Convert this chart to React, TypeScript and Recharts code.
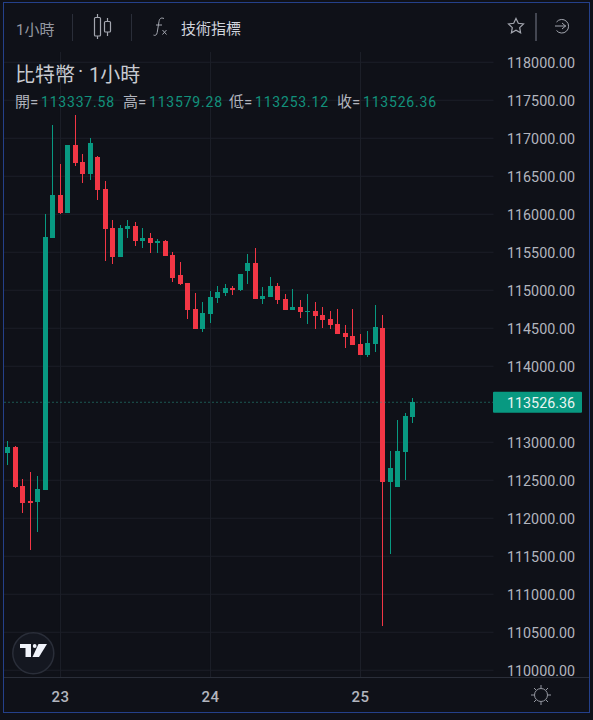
import { Bar, CartesianGrid, ComposedChart, ReferenceLine, XAxis, YAxis } from "recharts";

const FONT = "Roboto, 'Noto Sans CJK TC', sans-serif";
const BG = "#0f1118";
const UP = "#089981";
const DOWN = "#f23645";
const TEXT = "#b2b5be";

const opens = [
  112860, 112940, 112425, 112228, 112214, 112372, 115688, 116254, 116017, 116912, 116688,
  116530, 116754, 116333, 115820, 115438, 115807, 115846, 115649, 115688, 115622, 115649,
  115465, 115201, 115096, 114754, 114491, 114688, 114899, 114964, 115030, 115004, 115254,
  115359, 114886, 114912, 115057, 114886, 114741, 114780, 114714, 114728, 114675, 114622,
  114557, 114438, 114399, 114293, 114149, 114293, 114504, 112478, 112412, 112872, 113337.58,
];
const closes = [
  112938, 112413, 112201, 112201, 112385, 115701, 116254, 116017, 116912, 116675, 116530,
  116938, 116320, 115807, 115434, 115820, 115846, 115649, 115688, 115622, 115649, 115451,
  115162, 115083, 114741, 114491, 114701, 114912, 114978, 115030, 115004, 115215, 115359,
  114886, 114925, 115057, 114872, 114741, 114780, 114714, 114728, 114662, 114609, 114543,
  114425, 114385, 114280, 114149, 114307, 114517, 112478, 112662, 112886, 113346, 113526.36,
];
const highs = [
  113017, 112955, 112517, 112609, 112557, 116004, 117175, 116662, 116912, 117307, 116793,
  117004, 116767, 116438, 115925, 115859, 115925, 115899, 115820, 115754, 115675, 115662,
  115504, 115372, 115096, 114964, 114846, 114991, 115057, 115083, 115057, 115215, 115478,
  115557, 115043, 115175, 115096, 114951, 115017, 114872, 114951, 114846, 114780, 114728,
  114754, 114543, 114754, 114425, 114464, 114807, 114675, 112886, 113293, 113386, 113579.28,
];
const lows = [
  112701, 112400, 112070, 111579, 111820, 112372, 115688, 116004, 116017, 116639, 116412,
  116451, 116188, 115386, 115346, 115438, 115688, 115583, 115557, 115491, 115491, 115451,
  115109, 115070, 114622, 114491, 114451, 114570, 114833, 114925, 114938, 114991, 115083,
  114886, 114820, 114912, 114820, 114741, 114741, 114635, 114557, 114491, 114504, 114491,
  114425, 114241, 114280, 114149, 114122, 114188, 110583, 111530, 112412, 112504, 113253.12,
];

// 113500 is covered by the last price tag in the reference, so it is left out
const priceTicks = [
  110000, 110500, 111000, 111500, 112000, 112500, 113000, 114000, 114500, 115000,
  115500, 116000, 116500, 117000, 117500, 118000,
];
const dayTicks = [7, 27, 47];
const dayLabels = ["23", "24", "25"];
const lastPrice = 113526.36;
const ohlcLabels = ["開=", "高=", "低=", "收="];
const ohlcValues = ["113337.58", "113579.28", "113253.12", "113526.36"];

const rows = opens.map((open, i) => ({
  i,
  open,
  close: closes[i],
  high: highs[i],
  low: lows[i],
  range: [lows[i], highs[i]],
}));

function Candle(props: any) {
  const { x, y, width, height, payload } = props;
  const { open, close, high, low } = payload;
  const pxPerUnit = height / (high - low);
  const color = close >= open ? UP : DOWN;
  const wickX = Math.floor(x + width / 2);
  const top = Math.round(y + (high - Math.max(open, close)) * pxPerUnit);
  const bottom = Math.round(y + (high - Math.min(open, close)) * pxPerUnit);
  return (
    <g>
      <rect x={wickX} y={Math.round(y)} width={1} height={Math.round(height)} fill={color} />
      <rect x={wickX - 2} y={top} width={5} height={Math.max(bottom - top, 1)} fill={color} />
    </g>
  );
}

function PriceTag({ viewBox }: any) {
  const y = viewBox.y;
  return (
    <g>
      <rect x={493} y={y - 10.5} width={89} height={21} rx={1} fill={UP} />
      <text x={507} y={y + 5.5} fill="#e8f5f2" fontSize={14.3} fontFamily={FONT}>
        {lastPrice.toFixed(2)}
      </text>
    </g>
  );
}

function Header() {
  const ohlcLefts = [15, 123, 229, 337];
  return (
    <>
      <div style={{ position: "absolute", left: 16, top: 18, fontSize: 15, color: "#9598a1" }}>1小時</div>
      <div style={{ position: "absolute", left: 72, top: 14, width: 1, height: 27, background: "#2a2e39" }} />
      <div style={{ position: "absolute", left: 131, top: 14, width: 1, height: 27, background: "#2a2e39" }} />
      <div style={{ position: "absolute", left: 535, top: 13, width: 2, height: 28, background: "#434651" }} />
      <svg style={{ position: "absolute", left: 0, top: 0 }} width={593} height={50} fill="none" stroke="#a3a6af" strokeWidth={1.2}>
        <path d="M97.500 14v3.500M97.500 36v3M107.500 18v3M107.500 32v4" />
        <rect x={94.5} y={17.5} width={6} height={18.5} rx={1} />
        <rect x={104.5} y={21.5} width={6} height={10.5} rx={1} />
        <path d="M164 18.500c-3-1.200-4.500 0-5 3l-1.800 11c-.5 2.800-2 3.300-3.700 2.600M156 25h6" strokeWidth={1} />
        <path d="M162.500 30l4 4.500M166.500 30l-4 4.500" strokeWidth={1} />
        <path d="M516 18.500l2.300 4.800 5.200.7-3.800 3.600.9 5.200-4.600-2.500-4.600 2.500.9-5.200-3.800-3.600 5.200-.7z" />
        <path d="M556.500 22a6.800 6.800 0 1 1 0 8.500M555 26h11M562 23l3.500 3-3.500 3" strokeWidth={1} />
      </svg>
      <div style={{ position: "absolute", left: 181, top: 17, fontSize: 15, color: "#d1d4dc" }}>技術指標</div>
      <div style={{ position: "absolute", left: 15, top: 59, fontSize: 20, color: "#c8cad0" }}>比特幣</div>
      <div style={{ position: "absolute", left: 78, top: 59, fontSize: 20, color: "#c8cad0" }}>·</div>
      <div style={{ position: "absolute", left: 89, top: 59, fontSize: 20, color: "#c8cad0" }}>1小時</div>
      {ohlcLabels.map((label, i) => (
        <div key={label}>
          <div style={{ position: "absolute", left: ohlcLefts[i], top: 93, lineHeight: "18px", fontSize: 15, color: TEXT }}>{label}</div>
          <div style={{ position: "absolute", left: ohlcLefts[i] + 26, top: 93, lineHeight: "18px", fontSize: 14, letterSpacing: 0.8, color: "#12917c" }}>{ohlcValues[i]}</div>
        </div>
      ))}
    </>
  );
}

function Footer() {
  return (
    <>
      <div style={{ position: "absolute", left: 4, top: 677, width: 585, height: 1, background: "#2a2e39" }} />
      <svg style={{ position: "absolute", left: 0, top: 625 }} width={593} height={90}>
        <circle cx={33.3} cy={28.3} r={20.5} fill="#141720" stroke="#2a2e39" strokeWidth={1.5} />
        <path d="M20 19h11v13h-5.500v-9h-5.500z" fill="#f0f3fa" />
        <circle cx={34.700} cy={21} r={1.900} fill="#f0f3fa" />
        <path d="M38.500 19H47l-8 13h-6.500z" fill="#f0f3fa" />
        <g fill="none" stroke="#9598a1" strokeWidth={1}>
          <circle cx={541} cy={70} r={6.500} />
          <path d="M541 60v3M541 77v3M531 70h3M548 70h3M534 63l2 2M546 75l2 2M534 77l2-2M546 65l2-2" />
        </g>
      </svg>
    </>
  );
}

export default function App() {
  return (
    <div style={{ position: "absolute", left: 0, top: 0, width: 593, height: 720, background: BG, fontFamily: FONT, overflow: "hidden" }}>
      <div style={{ position: "absolute", left: 3, top: 2, width: 585, height: 709, border: "1px solid #24408a" }} />
      <div style={{ position: "absolute", left: 0, top: 0 }}>
        <ComposedChart width={593} height={720} data={rows} margin={{ top: 52, right: 0, bottom: 0, left: 4 }}>
          <CartesianGrid stroke="#1c1f28" strokeWidth={1} syncWithTicks />
          <XAxis
            dataKey="i"
            type="number"
            domain={[-0.533, 64.733]}
            allowDataOverflow
            ticks={dayTicks}
            tickFormatter={(v: number) => dayLabels[dayTicks.indexOf(v)]}
            height={42.5}
            axisLine={false}
            tickLine={false}
            tickMargin={8}
            tick={{ fill: TEXT, fontSize: 15, fontWeight: 500, fontFamily: FONT, letterSpacing: 0.5 }}
          />
          <YAxis
            orientation="right"
            domain={[109905, 118135]}
            allowDataOverflow
            ticks={priceTicks}
            interval={0}
            width={99.5}
            axisLine={false}
            tickLine={false}
            tickMargin={7.5}
            tickFormatter={(v: number) => v.toFixed(2)}
            tick={{ fill: TEXT, fontSize: 14.3, fontFamily: FONT, textAnchor: "start", dy: 1 }}
          />
          <ReferenceLine y={lastPrice} stroke="#2aa08c" strokeDasharray="1 3" label={PriceTag} />
          <Bar dataKey="range" barSize={5} shape={Candle} isAnimationActive={false} />
        </ComposedChart>
      </div>
      <Header />
      <Footer />
    </div>
  );
}
